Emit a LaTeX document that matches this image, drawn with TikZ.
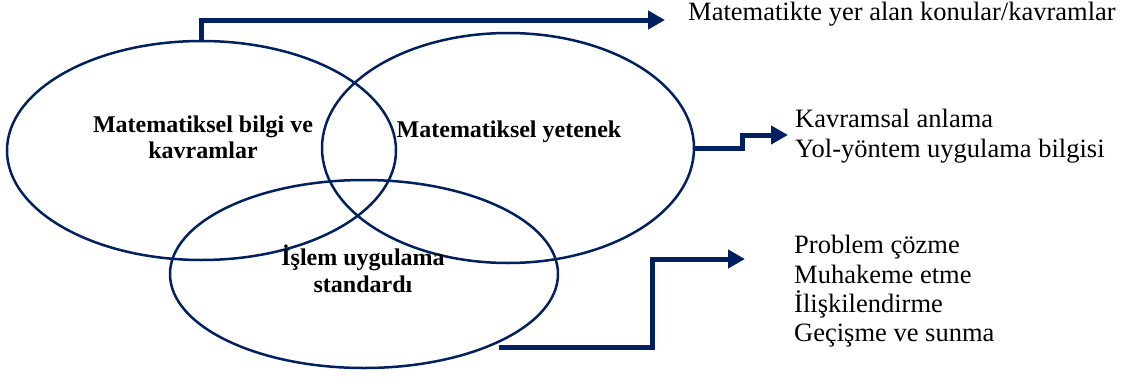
\documentclass[tikz,border=0pt]{standalone}
\usepackage{fontspec}
\setmainfont{Liberation Serif}
\usetikzlibrary{shapes.geometric,arrows.meta}
\definecolor{navy}{RGB}{0,32,96}
\begin{document}
\begin{tikzpicture}[x=1pt,y=-1pt,
  venn/.style={draw=navy,line width=2.5pt,ellipse,inner sep=0pt},
  conn/.style={draw=navy,line width=5pt,-{Triangle[length=17pt,width=18pt]}},
  txt/.style={inner sep=0pt,anchor=base west,font=\fontsize{26.5}{30}\selectfont},
  lbl/.style={inner sep=0pt,anchor=base,font=\fontsize{24}{27}\selectfont\bfseries}]
\useasboundingbox (0,0) rectangle (1130,378);
\node[venn,minimum width=389pt,minimum height=219pt] (e1) at (201.5,150.5) {};
\node[venn,minimum width=372pt,minimum height=230pt] (e2) at (508,148) {};
\node[venn,minimum width=388pt,minimum height=188pt] (e3) at (364,274) {};
% labels
\node[lbl] (l1a) at (203,132) {Matematiksel bilgi ve};
\node[lbl] (l1b) at (203,158) {kavramlar};
\node[lbl] (l2) at (509,137) {Matematiksel yetenek};
\node[lbl] (l3a) at (363,265) {İşlem uygulama};
\node[lbl] (l3b) at (363,292) {standardı};
% right texts
\node[txt] (r1) at (688,20) {Matematikte yer alan konular/kavramlar};
\node[txt] (r2a) at (795,127) {Kavramsal anlama};
\node[txt] (r2b) at (795,157) {Yol-yöntem uygulama bilgisi};
\node[txt] (r3a) at (794,253) {Problem çözme};
\node[txt] (r3b) at (794,283) {Muhakeme etme};
\node[txt] (r3c) at (794,312) {İlişkilendirme};
\node[txt] (r3d) at (794,341) {Geçişme ve sunma};
% connectors
\coordinate (t1) at (665,20);
\draw[conn] (e1.north) |- (t1);
\coordinate (c2) at (742,148);
\coordinate (t2) at (788,135);
\draw[conn] (e2.east) -- (c2) |- (t2);
\coordinate (c3) at (652,347);
\coordinate (t3) at (745,259);
\draw[conn] (e3.-27 |- c3) -- (c3) |- (t3);
\end{tikzpicture}
\end{document}
